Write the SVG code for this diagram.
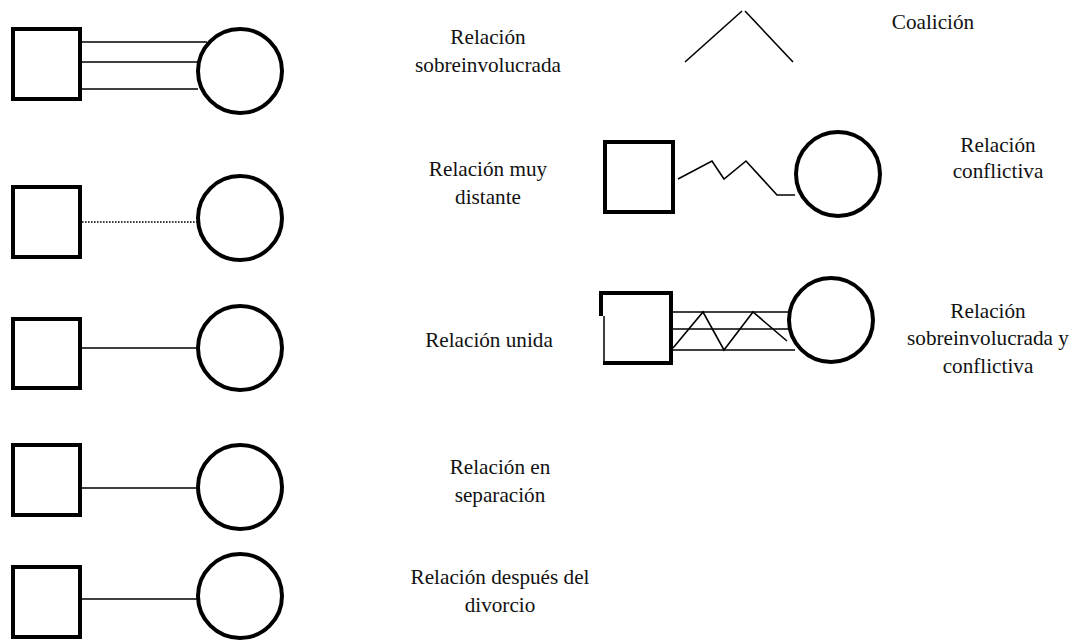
<svg xmlns="http://www.w3.org/2000/svg" width="1080" height="642" viewBox="0 0 1080 642">
<style>
.sq{fill:#fff;stroke:#000;stroke-width:4}
.ci{fill:#fff;stroke:#000;stroke-width:4}
.ln{fill:none;stroke:#000;stroke-width:1.6}
.dot{fill:none;stroke:#000;stroke-width:1.6;stroke-dasharray:1.6 1.4}
.lb{font-family:'Liberation Serif','Times New Roman',Tinos,'DejaVu Serif',serif;font-size:21.2px;fill:#111;text-anchor:middle}
</style>
<rect width="1080" height="642" fill="#fff"/>
<g id="connectors">
<line class="ln" x1="82" y1="42" x2="207" y2="42"/>
<line class="ln" x1="82" y1="62" x2="198" y2="62"/>
<line class="ln" x1="82" y1="89" x2="198" y2="89"/>
<line class="dot" x1="82" y1="222" x2="197" y2="222"/>
<line class="ln" x1="82" y1="348" x2="198" y2="348"/>
<line class="ln" x1="82" y1="488" x2="198" y2="488"/>
<line class="ln" x1="82" y1="599" x2="198" y2="599"/>
<polyline class="ln" points="678,179 712,161 724,179 746,161 777,195 795,195"/>
<line class="ln" x1="673" y1="312" x2="788" y2="312"/>
<line class="ln" x1="673" y1="329" x2="788" y2="329"/>
<line class="ln" x1="673" y1="350" x2="795" y2="350"/>
<polyline class="ln" points="673,348 703,312 724,350 753,312 787,341"/>
<line class="ln" x1="685" y1="62" x2="742" y2="11"/>
<line class="ln" x1="745" y1="11" x2="793" y2="62"/>
</g>
<g id="n1"><rect class="sq" x="13" y="29" width="67" height="70"/><circle class="ci" cx="240" cy="71" r="42"/></g>
<g id="n2"><rect class="sq" x="13" y="187" width="67" height="70"/><circle class="ci" cx="240" cy="218" r="42"/></g>
<g id="n3"><rect class="sq" x="13" y="319" width="67" height="69"/><circle class="ci" cx="240" cy="348" r="42"/></g>
<g id="n4"><rect class="sq" x="13" y="445" width="67" height="70"/><circle class="ci" cx="240" cy="487" r="42"/></g>
<g id="n5"><rect class="sq" x="13" y="567" width="67" height="70"/><circle class="ci" cx="240" cy="596" r="42"/></g>
<g id="n6"><rect class="sq" x="605" y="142" width="68" height="70"/><circle class="ci" cx="838" cy="174" r="42"/></g>
<g id="n7">
<rect x="603" y="293" width="68" height="70" fill="#fff"/>
<path d="M599,293 H671 V363 H603" fill="none" stroke="#000" stroke-width="4"/>
<rect x="599" y="291" width="4" height="25" fill="#000"/>
<line x1="604" y1="316" x2="604" y2="365" stroke="#000" stroke-width="1.5"/>
<circle class="ci" cx="831" cy="320" r="42"/>
</g>
<g id="labels">
<text class="lb" x="488" y="44">Relación</text>
<text class="lb" x="488" y="72">sobreinvolucrada</text>
<text class="lb" x="488" y="176">Relación muy</text>
<text class="lb" x="488" y="204">distante</text>
<text class="lb" x="489" y="347">Relación unida</text>
<text class="lb" x="500" y="474">Relación en</text>
<text class="lb" x="500" y="502">separación</text>
<text class="lb" x="500" y="584">Relación después del</text>
<text class="lb" x="500" y="612">divorcio</text>
<text class="lb" x="933" y="29">Coalición</text>
<text class="lb" x="998" y="152">Relación</text>
<text class="lb" x="998" y="178">conflictiva</text>
<text class="lb" x="988" y="318">Relación</text>
<text class="lb" x="988" y="345">sobreinvolucrada y</text>
<text class="lb" x="988" y="373">conflictiva</text>
</g>
</svg>
